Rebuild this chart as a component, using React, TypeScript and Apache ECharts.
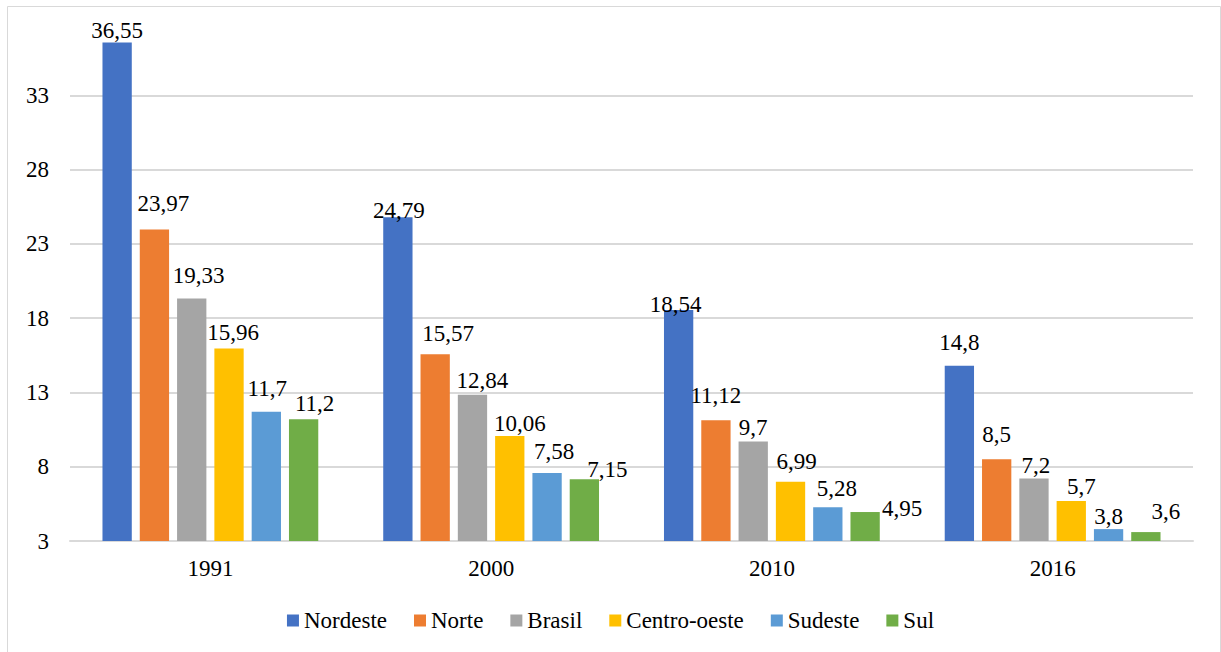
import React, { useEffect, useRef } from "react";
import * as echarts from "echarts";

const categories = ["1991", "2000", "2010", "2016"];
const seriesNames = ["Nordeste", "Norte", "Brasil", "Centro-oeste", "Sudeste", "Sul"];
const nordeste = [36.55, 24.79, 18.54, 14.8];
const norte = [23.97, 15.57, 11.12, 8.5];
const brasil = [19.33, 12.84, 9.7, 7.2];
const centroOeste = [15.96, 10.06, 6.99, 5.7];
const sudeste = [11.7, 7.58, 5.28, 3.8];
const sul = [11.2, 7.15, 4.95, 3.6];
const colors = ["#4472C4", "#ED7D31", "#A5A5A5", "#FFC000", "#5B9BD5", "#70AD47"];

// manual label nudges [dx, dy] per series per category (styling only)
const labelNudges: number[][][] = [
  [[0, -1], [1, 5], [-3, 6], [0, -12]],
  [[9, -14], [13, -9], [0, -13], [0, -13]],
  [[7, -11], [10, -3], [0, -2], [2, -2]],
  [[4, -4], [10, -1], [6, -9], [10, -3]],
  [[1, -12], [7, -10], [9, -7], [0, -1]],
  [[11, -4], [23, 2], [37, 8], [20, -9]],
];

const FONT = "Liberation Serif";
const FS = 23;

export default function App() {
  const ref = useRef<HTMLDivElement>(null);
  useEffect(() => {
    document.body.style.margin = "0";
    const chart = echarts.init(ref.current!, null, { renderer: "svg" });
    const values = [nordeste, norte, brasil, centroOeste, sudeste, sul];
    chart.setOption({
      animation: false,
      color: colors,
      textStyle: { fontFamily: FONT },
      graphic: [
        {
          type: "rect",
          shape: { x: 7.5, y: 6.5, width: 1213, height: 660 },
          style: { fill: "none", stroke: "#d9d9d9", lineWidth: 1 },
          silent: true,
        },
      ],
      grid: { left: 70, right: 28, top: 21, height: 520, containLabel: false },
      legend: {
        top: 604,
        left: "center",
        itemWidth: 12,
        itemHeight: 12,
        itemGap: 27,
        icon: "rect",
        textStyle: { fontFamily: FONT, fontSize: FS, color: "#000" },
        data: seriesNames,
      },
      xAxis: {
        type: "category",
        data: categories,
        axisTick: { show: false },
        axisLine: { lineStyle: { color: "#d9d9d9", width: 2 } },
        axisLabel: { fontFamily: FONT, fontSize: FS, color: "#000", margin: 16 },
      },
      yAxis: {
        type: "value",
        min: 3,
        max: 38,
        interval: 5,
        axisLine: { show: false },
        axisTick: { show: false },
        axisLabel: { fontFamily: FONT, fontSize: FS, color: "#000", margin: 21, showMaxLabel: false },
        splitLine: { lineStyle: { color: "#d9d9d9", width: 2 }, showMaxLine: false },
      },
      series: seriesNames.map((name, i) => ({
        name,
        type: "bar",
        barWidth: 29.3,
        barGap: "27.3%",
        data: values[i].map((v, j) => ({
          value: v,
          label: { offset: labelNudges[i][j] },
        })),
        label: {
          show: true,
          position: "top",
          distance: 0,
          fontFamily: FONT,
          fontSize: FS,
          color: "#000",
          formatter: (p: any) => String(p.value).replace(".", ","),
        },
      })),
    });
    return () => chart.dispose();
  }, []);
  return <div ref={ref} style={{ width: 1221, height: 652 }} />;
}
